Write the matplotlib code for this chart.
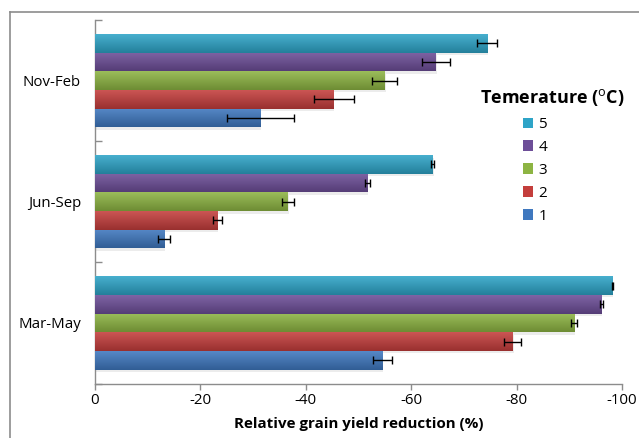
import matplotlib
matplotlib.use("Agg")
import matplotlib.pyplot as plt
import matplotlib.patches as mpatches
import matplotlib.patheffects as pe
from matplotlib.lines import Line2D
import numpy as np
from matplotlib.colors import to_rgb

plt.rcParams['font.family'] = ['Open Sans', 'DejaVu Sans']
plt.rcParams['mathtext.fontset'] = 'custom'
plt.rcParams['mathtext.rm'] = 'Open Sans'
plt.rcParams['mathtext.bf'] = 'Open Sans:bold'

categories = ["Mar-May", "Jun-Sep", "Nov-Feb"]
series = ["1", "2", "3", "4", "5"]
# values (relative grain yield reduction, %) per series, order of categories
values = {
    "1": [-54.6, -13.1, -31.4],
    "2": [-79.3, -23.2, -45.3],
    "3": [-90.9, -36.6, -55.0],
    "4": [-96.1, -51.7, -64.7],
    "5": [-98.2, -64.1, -74.4],
}
errors = {
    "1": [1.8, 1.2, 6.3],
    "2": [1.6, 0.9, 3.8],
    "3": [0.65, 1.1, 2.4],
    "4": [0.2, 0.4, 2.6],
    "5": [0.1, 0.3, 1.9],
}
xticks = [0, -20, -40, -60, -80, -100]

colors = {
    "1": "#3F78BF",
    "2": "#C43E3C",
    "3": "#8DB443",
    "4": "#6D4E98",
    "5": "#2EA4C7",
}

fig = plt.figure(figsize=(6.39, 4.38), dpi=100)
ax = fig.add_axes([95/639, 1-383.5/438, (622-95)/639, (383.5-20)/438])

w = 1/6.5
ypos = np.arange(len(categories))

def shade(c, f):
    r = np.array(to_rgb(c))
    if f > 0:
        return r + (1 - r) * f
    return r * (1 + f)

for i, s in enumerate(series):
    off = (i - 2) * w
    bars = ax.barh(ypos + off, values[s], height=w, color=colors[s],
                   linewidth=0, zorder=2,
                   path_effects=[pe.SimplePatchShadow(offset=(0.5, -1.8), shadow_rgbFace=(0.5, 0.5, 0.5), alpha=0.15), pe.Normal()])
    # gradient overlay
    n = 32
    t = np.linspace(0, 1, n)  # bottom->top
    top = shade(colors[s], 0.12)
    bot = shade(colors[s], -0.22)
    grad = (bot[None, :] * (1 - t[:, None]) + top[None, :] * t[:, None])
    grad = grad[:, None, :]
    for b in bars:
        x0 = b.get_x(); x1 = x0 + b.get_width()
        y0 = b.get_y(); y1 = y0 + b.get_height()
        im = ax.imshow(grad, extent=(x0, x1, y0, y1), origin='lower',
                       aspect='auto', zorder=3, interpolation='bilinear')
        im.set_clip_path(b)
    ax.errorbar(values[s], ypos + off, xerr=errors[s], fmt='none',
                ecolor='black', elinewidth=1.0, capsize=2.6, capthick=1.0, zorder=4)

ax.set_xlim(0, -100)
ax.set_ylim(-0.5, 2.5)
ax.set_xticks(xticks)
ax.set_xticklabels([str(v) for v in xticks], fontsize=10.8)
ax.set_yticks([-0.5, 0.5, 1.5, 2.5])
ax.set_yticklabels([])
ax.set_yticks(ypos, minor=True)
ax.set_yticklabels(categories, minor=True, fontsize=10.8)
ax.tick_params(axis='y', which='major', direction='in', length=5, color='#8c8c8c', width=1)
ax.tick_params(axis='y', which='minor', length=0, pad=10)
ax.tick_params(axis='x', direction='out', length=4, color='#8c8c8c', width=1, pad=3)
for sp in ['top', 'right']:
    ax.spines[sp].set_visible(False)
for sp in ['left', 'bottom']:
    ax.spines[sp].set_color('#8c8c8c')
    ax.spines[sp].set_linewidth(1)

ax.set_xlabel("Relative grain yield reduction (%)", fontsize=10.9, fontweight='bold', labelpad=6)

handles = [mpatches.Patch(facecolor=colors[s], edgecolor='none') for s in reversed(series)]
leg = ax.legend(handles, list(reversed(series)),
                loc='upper left', bbox_to_anchor=(523/639, 1-117/438), bbox_transform=fig.transFigure,
                frameon=False, fontsize=11, handlelength=0.65, handleheight=0.65,
                handletextpad=0.35, labelspacing=0.52, borderpad=0, borderaxespad=0)
fig.text(552/639, 1-98/438, "Temerature ($^{\\mathrm{o}}$C)", ha='center', va='center',
         fontsize=13, fontweight='bold')

# figure frame lines
fig.add_artist(Line2D([10/639, 10/639], [0, 1-12/438], transform=fig.transFigure, color='#8c8c8c', lw=1.2))
fig.add_artist(Line2D([10/639, 1], [1-12/438, 1-12/438], transform=fig.transFigure, color='#8c8c8c', lw=1.2))

fig.savefig("out.png", dpi=100)
